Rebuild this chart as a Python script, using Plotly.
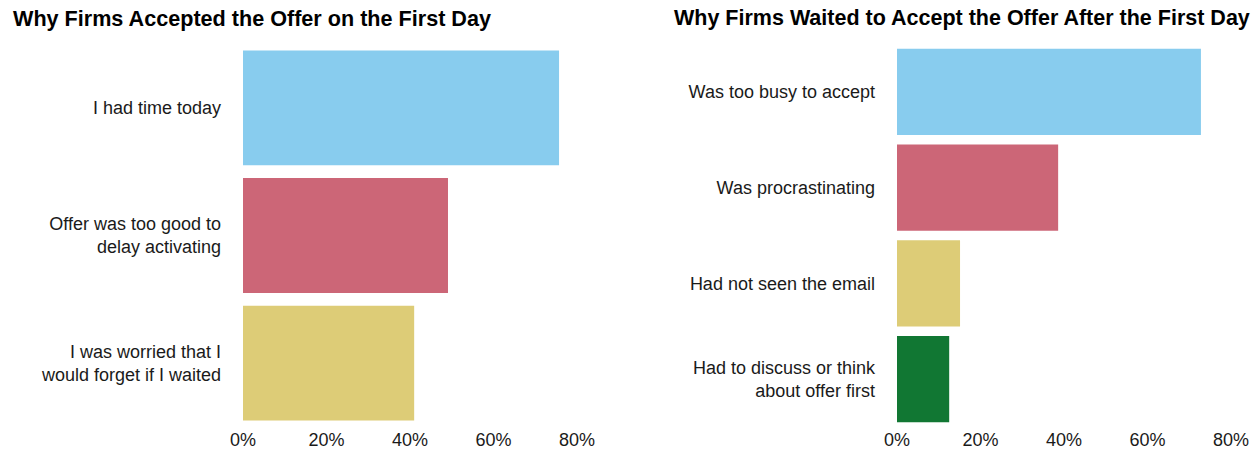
import plotly.graph_objects as go

W, H = 1257, 451

left_title = "Why Firms Accepted the Offer on the First Day"
left_cats = ["I had time today", "Offer was too good to<br>delay activating",
             "I was worried that I<br>would forget if I waited"]
left_vals = [0.757, 0.491, 0.410]
left_colors = ["#88CCEE", "#CC6677", "#DDCC77"]

right_title = "Why Firms Waited to Accept the Offer After the First Day"
right_cats = ["Was too busy to accept", "Was procrastinating",
              "Had not seen the email", "Had to discuss or think<br>about offer first"]
right_vals = [0.728, 0.386, 0.151, 0.125]
right_colors = ["#88CCEE", "#CC6677", "#DDCC77", "#117733"]

tick_vals = [0, 0.2, 0.4, 0.6, 0.8]

FONT = "Liberation Sans, Arial, Helvetica, sans-serif"

fig = go.Figure()
fig.add_trace(go.Bar(x=left_vals, y=left_cats, orientation="h",
                     marker=dict(color=left_colors, line=dict(width=0)),
                     width=0.9, xaxis="x", yaxis="y", hoverinfo="x+y"))
fig.add_trace(go.Bar(x=right_vals, y=right_cats, orientation="h",
                     marker=dict(color=right_colors, line=dict(width=0)),
                     width=0.9, xaxis="x2", yaxis="y2", hoverinfo="x+y"))

xcommon = dict(range=[0, 0.8], tickvals=tick_vals, tickformat=".0%",
               showgrid=False, zeroline=False, showline=False, ticks="",
               automargin=False, ticklabelstandoff=0,
               tickfont=dict(size=18, color="#1a1a1a", family=FONT),
               fixedrange=True)
ycommon = dict(autorange="reversed", showgrid=False, zeroline=False,
               showline=False, ticks="", ticklabelstandoff=21,
               automargin=False, fixedrange=True,
               tickfont=dict(size=18, color="#1a1a1a", family=FONT))

T, B = 44, 24
plot_h = H - T - B
title_y = (H - B - 18) / plot_h

fig.update_layout(
    width=W, height=H,
    margin=dict(l=0, r=0, t=T, b=B, pad=0),
    paper_bgcolor="white", plot_bgcolor="white",
    showlegend=False,
    bargap=0.1,
    font=dict(family=FONT),
    xaxis=dict(domain=[243 / W, 577 / W], anchor="y", **xcommon),
    xaxis2=dict(domain=[897 / W, 1231 / W], anchor="y2", **xcommon),
    yaxis=dict(domain=[0, 1], anchor="x", **ycommon),
    yaxis2=dict(domain=[0, 1], anchor="x2", **ycommon),
    annotations=[
        dict(text="<b>" + left_title + "</b>", x=11 / W, y=title_y, xref="paper",
             yref="paper", xanchor="left", yanchor="middle",
             showarrow=False, font=dict(size=21.6, color="black", family=FONT)),
        dict(text="<b>" + right_title + "</b>", x=672 / W, y=title_y, xref="paper",
             yref="paper", xanchor="left", yanchor="middle",
             showarrow=False, font=dict(size=21.5, color="black", family=FONT)),
    ],
)

fig.write_html("out.html", config={"displayModeBar": False})

# remove default body margin so the figure sits at the window's top-left corner
with open("out.html", "r", encoding="utf-8") as f:
    html = f.read()
html = html.replace("<body>", '<body style="margin:0;padding:0;overflow:hidden">', 1)
with open("out.html", "w", encoding="utf-8") as f:
    f.write(html)
